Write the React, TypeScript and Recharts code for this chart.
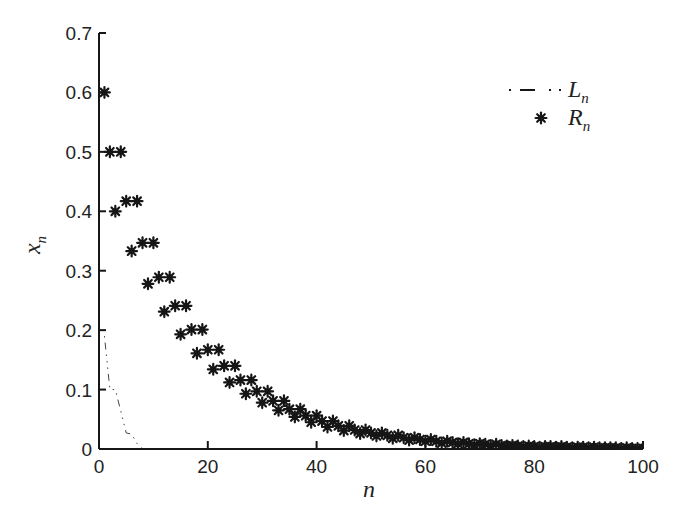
import React from "react";
import { ComposedChart, XAxis, YAxis, Line, Scatter, Label } from "recharts";

// n = 1..100
const nValues = Array.from({ length: 100 }, (_, i) => i + 1);

// R_n (stars)
const rValues = [
  0.6, 0.5, 0.4, 0.5, 0.417, 0.333, 0.417, 0.347, 0.278, 0.347,
  0.289, 0.231, 0.289, 0.241, 0.193, 0.241, 0.201, 0.161, 0.201, 0.167,
  0.134, 0.167, 0.14, 0.112, 0.14, 0.116, 0.093, 0.116, 0.097, 0.078,
  0.097, 0.081, 0.065, 0.081, 0.067, 0.054, 0.067, 0.056, 0.045, 0.056,
  0.047, 0.037, 0.047, 0.039, 0.031, 0.039, 0.032, 0.026, 0.032, 0.027,
  0.022, 0.027, 0.023, 0.018, 0.023, 0.019, 0.015, 0.019, 0.016, 0.013,
  0.016, 0.013, 0.01, 0.013, 0.011, 0.009, 0.011, 0.009, 0.007, 0.009,
  0.008, 0.006, 0.008, 0.006, 0.005, 0.006, 0.005, 0.004, 0.005, 0.004,
  0.003, 0.004, 0.004, 0.003, 0.004, 0.003, 0.002, 0.003, 0.003, 0.002,
  0.003, 0.002, 0.002, 0.002, 0.002, 0.001, 0.002, 0.001, 0.001, 0.001,
];

// L_n (dash-dot line)
const lN = [1, 2, 3, 4, 5, 6, 7, 8];
const lValues = [0.19, 0.1, 0.1, 0.064, 0.027, 0.025, 0.009, 0.0];

const xTicks = [0, 20, 40, 60, 80, 100];
const yTicks = [0, 0.1, 0.2, 0.3, 0.4, 0.5, 0.6, 0.7];

const rData = nValues.map((n, i) => ({ n, r: rValues[i] }));
const lData = lN.map((n, i) => ({ n, l: lValues[i] }));

const INK = "#161616";
const tickFont = "'Liberation Sans', Arial, sans-serif";
const serif = "'Liberation Serif', 'Times New Roman', serif";
const lDash = "1.5 5 7 5 1.5 5 1.5 5";

const Star = ({ cx, cy }: any) => {
  if (cx == null || cy == null) return null;
  const r = 5.4;
  const d = r * 0.7071;
  return (
    <g stroke={INK} strokeWidth={2.2} strokeLinecap="round">
      <circle cx={cx} cy={cy} r={3} fill={INK} stroke="none" />
      <line x1={cx - r} y1={cy} x2={cx + r} y2={cy} />
      <line x1={cx} y1={cy - r} x2={cx} y2={cy + r} />
      <line x1={cx - d} y1={cy - d} x2={cx + d} y2={cy + d} />
      <line x1={cx - d} y1={cy + d} x2={cx + d} y2={cy - d} />
    </g>
  );
};

const XTick = ({ x, y, payload }: any) => {
  const axisY = y - 6;
  return (
    <g>
      <line x1={x} y1={axisY} x2={x} y2={axisY - 8} stroke={INK} strokeWidth={2} />
      <text x={x} y={axisY + 24} textAnchor="middle" fontFamily={tickFont} fontSize={19} fill="#222">
        {payload.value}
      </text>
    </g>
  );
};

const YTick = ({ x, y, payload }: any) => {
  const axisX = x + 7;
  const v = payload.value;
  return (
    <g>
      <line x1={axisX} y1={y} x2={axisX + 7} y2={y} stroke={INK} strokeWidth={2} />
      <text x={x} y={y + 7} textAnchor="end" fontFamily={tickFont} fontSize={19} fill="#222">
        {v === 0 ? "0" : v.toFixed(1)}
      </text>
    </g>
  );
};

export default function App() {
  return (
    <div style={{ position: "absolute", left: 0, top: 0, width: 700, height: 516, background: "#fff" }}>
      <ComposedChart
        width={700}
        height={516}
        margin={{ top: 33, right: 57, left: 0, bottom: 0 }}
      >
        <XAxis
          type="number"
          dataKey="n"
          domain={[0, 100]}
          ticks={xTicks}
          tick={<XTick />}
          tickLine={false}
          tickSize={0}
          tickMargin={6}
          height={67}
          axisLine={{ stroke: INK, strokeWidth: 2 }}
          allowDataOverflow
        >
          <Label
            content={() => (
              <text x={369} y={497} textAnchor="middle" fontFamily={serif} fontStyle="italic" fontSize={24} fill="#222">
                n
              </text>
            )}
          />
        </XAxis>
        <YAxis
          type="number"
          domain={[0, 0.7]}
          ticks={yTicks}
          tick={<YTick />}
          tickLine={false}
          tickSize={0}
          tickMargin={7}
          width={99}
          axisLine={{ stroke: INK, strokeWidth: 2 }}
          allowDataOverflow
        >
          <Label
            content={() => (
              <text
                transform="rotate(-90, 40, 245)"
                x={40}
                y={245}
                textAnchor="middle"
                fontFamily={serif}
                fontStyle="italic"
                fontSize={24}
                fill="#222"
              >
                x<tspan fontSize={15} dy={6}>n</tspan>
              </text>
            )}
          />
        </YAxis>
        <Line
          data={lData}
          dataKey="l"
          type="linear"
          stroke="#444"
          strokeWidth={1}
          strokeDasharray={lDash}
          dot={false}
          isAnimationActive={false}
        />
        <Scatter data={rData} dataKey="r" shape={<Star />} isAnimationActive={false} />
      </ComposedChart>
      <svg
        width={170}
        height={80}
        style={{ position: "absolute", left: 495, top: 70, pointerEvents: "none" }}
      >
        <line x1={14} y1={20} x2={72} y2={20} stroke={INK} strokeWidth={2} strokeDasharray="2 9 15 14 2 8 2 6" />
        <text x={73} y={27} fontFamily={serif} fontStyle="italic" fontSize={24} fill="#222">
          L<tspan fontSize={15} dy={6}>n</tspan>
        </text>
        <Star cx={46} cy={48} />
        <text x={73} y={55} fontFamily={serif} fontStyle="italic" fontSize={24} fill="#222">
          R<tspan fontSize={15} dy={6}>n</tspan>
        </text>
      </svg>
    </div>
  );
}
